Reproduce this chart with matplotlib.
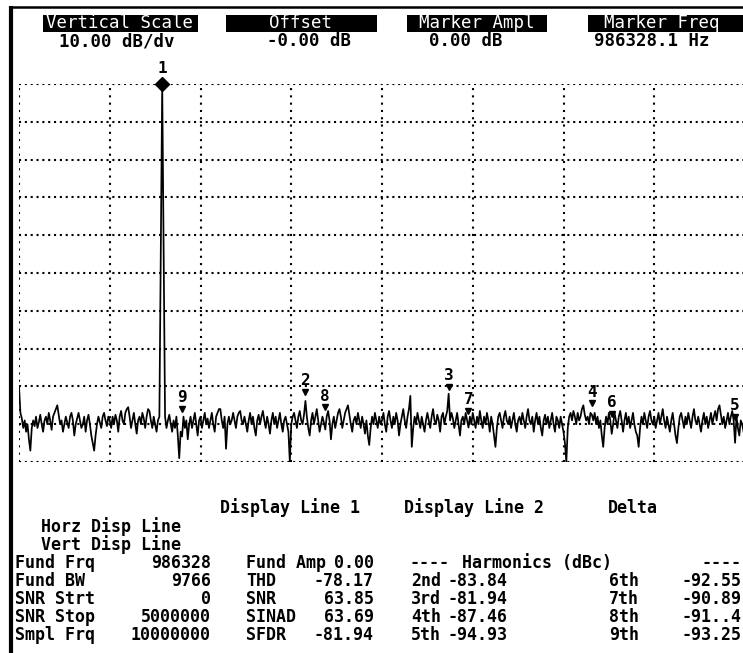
import numpy as np
import matplotlib
matplotlib.use("Agg")
import matplotlib.pyplot as plt
from matplotlib.patches import Rectangle
from matplotlib.lines import Line2D
import matplotlib.transforms as mtransforms

W, H = 743, 653

# ---------------- data ----------------
sample_rate = 10_000_000
fund_freq = 986328.1
fund_bw = 9766
fund_skirt_db = [-44.0, 0.0, -44.0]

harm_names = ["2", "3", "4", "5", "6", "7", "8", "9"]
harm_freq = [1972656, 2958984, 3945312, 4931640, 4082031, 3095703, 2109375, 1123047]
harm_db = [-83.84, -81.94, -87.46, -94.93, -92.55, -90.89, -91.4, -93.25]
marker_db = [-82.3, -81.0, -85.4, -88.9, -88.1, -87.3, -86.5, -86.8]

noise_step = 9765.625
noise_db = [
    -80, -87, -88.5, -91, -89, -92, -90, -94, -97, -91, -89, -90.5, -88, -91, -89.5, -87.5,
    -90, -92, -89, -88, -90, -87, -89, -91.5, -88, -87, -86, -85, -87.5, -90, -89, -92,
    -90, -88, -89.5, -91, -88, -87, -89, -93, -90, -88.5, -87, -89, -91, -90, -88, -92,
    -89, -87.5, -90, -93, -95, -97, -93, -90, -88, -89.5, -91, -88, -87, -89, -90.5, -88,
    -89, -91, -88, -90, -87.5, -89, -92, -88, -86.5, -89, -90, -87, -86, -85.5, -88, -91,
    -89, -87, -90, -92.5, -89, -88, -90, -87, -88.5, -91, -88, -86, -86.5, -89, -91, -88,
    -90, -92, -89, -88, -90, -89, -90, -88, -91, -89, -87.5, -90, -92, -89, -91, -88,
    -93, -99, -92, -89, -88, -91, -89, -94, -90, -88, -91, -89, -87, -90, -93, -89,
    -88, -91, -89, -87, -90, -88.5, -91, -89, -87, -90, -92, -88, -87, -86, -86, -89,
    -91, -88, -96.5, -90, -88, -90, -89, -87, -89, -91, -88, -87, -86.5, -89, -90, -88,
    -90, -92, -89, -87, -90, -88, -91, -93, -89, -87.5, -90, -88, -86.5, -89, -91, -88,
    -90, -92.5, -89, -87, -90, -88, -91, -89, -87, -90, -92, -89, -88, -90, -92, -100,
    -90, -88, -87, -89, -91, -88, -86.5, -89, -90, -87.5, -89, -88, -91, -93, -89, -87,
    -90, -88, -86, -89, -92, -90, -88, -89.5, -91, -88, -86.5, -89, -94, -90, -88, -91,
    -89, -87, -86, -88, -91, -89, -87, -86, -85, -87.5, -90, -92, -89, -88, -90, -87,
    -89, -91, -88, -90, -92.5, -89, -93, -95.5, -91, -88, -90, -87, -89, -91, -88, -90,
    -89, -87, -90, -92, -88, -86.5, -89, -91, -88, -90, -87, -89, -93, -90, -88, -86,
    -89, -91, -88, -86, -82.5, -96, -91, -88, -90, -87, -89, -91, -88, -90, -92, -89,
    -87, -89, -91, -88, -86, -89, -90, -87.5, -89, -92, -88, -87, -90, -88, -86.5, -90,
    -89, -87, -88.5, -91, -89, -87, -90, -93, -89, -88, -90, -87, -89, -91, -88, -90,
    -87, -89, -91, -88, -90, -86.5, -89, -91, -88, -90, -87, -89, -92, -88, -90, -93,
    -96, -91, -88, -87, -89, -91, -88, -86.5, -89, -90, -88, -91, -89, -87, -90, -92,
    -89, -88, -90, -87, -89, -91, -88, -86, -89, -90, -88, -92, -89, -87, -90, -88,
    -91, -93, -89, -87.5, -90, -88, -91, -89, -87, -90, -92, -88, -89, -91, -88, -90,
    -92, -95, -100, -91, -88, -87, -89, -86.5, -88, -90, -87, -89, -88, -86, -85, -87.5,
    -89, -88, -90, -87, -88, -89, -87, -90, -88, -91, -89, -93, -96, -91, -88, -90,
    -87, -89, -88, -90, -87, -89, -91, -88, -86.5, -89, -92, -89, -87, -90, -88, -91,
    -89, -87, -90, -92, -93, -96, -91, -88, -90, -87, -89, -91, -88, -86.5, -89, -90,
    -88, -91, -89, -87, -90, -88, -86, -89, -91, -88, -90, -92, -89, -87, -90, -93,
    -95, -91, -88, -87, -89, -91, -88, -90, -87, -89, -91, -88, -86, -89, -90, -88,
    -90, -92, -89, -87, -90, -88, -91, -89, -87, -90, -88, -86.5, -89, -86, -85, -87.5,
    -90, -88, -91, -89, -87, -90, -88, -86.5, -89, -90, -88, -91, -93, -89, -90, -92,
]

header_titles = ["Vertical Scale", "Offset", "Marker Ampl", "Marker Freq"]
header_values = ["10.00 dB/dv", "-0.00 dB", "0.00 dB", "986328.1 Hz"]

disp_cols = ["Display Line 1", "Display Line 2", "Delta"]
disp_rows = ["Horz Disp Line", "Vert Disp Line"]
colA_lab = ["Fund Frq", "Fund BW", "SNR Strt", "SNR Stop", "Smpl Frq"]
colA_val = ["986328", "9766", "0", "5000000", "10000000"]
colB_lab = ["Fund Amp", "THD", "SNR", "SINAD", "SFDR"]
colB_val = ["0.00", "-78.17", "63.85", "63.69", "-81.94"]
harm_title = ["----", "Harmonics (dBc)", "----"]
colC_lab = ["2nd", "3rd", "4th", "5th"]
colC_val = ["-83.84", "-81.94", "-87.46", "-94.93"]
colD_lab = ["6th", "7th", "8th", "9th"]
colD_val = ["-92.55", "-90.89", "-91..4", "-93.25"]

# ---------------- figure ----------------
fig = plt.figure(figsize=(W / 100, H / 100), dpi=100)
fig.patch.set_facecolor("white")

def fx(x):
    return x / W

def fy(y):
    return 1 - y / H

MONO = ["DejaVu Sans Mono"]
FS = 12.0
HFS = 12.5

# frame borders
fig.add_artist(Line2D([fx(10.5), fx(10.5)], [fy(6), fy(653)], color="black", lw=3.0,
                      transform=fig.transFigure, solid_capstyle="butt"))
fig.add_artist(Line2D([fx(9), fx(743)], [fy(7), fy(7)], color="black", lw=1.8,
                      transform=fig.transFigure, solid_capstyle="butt"))

# header boxes
box_x = [(43, 198), (226, 377), (407, 547), (588, 745)]
title_cx = [120, 301, 477, 662]
val_cx = [117, 309, 466, 652]
for (x0, x1), t, v, tc, vc in zip(box_x, header_titles, header_values, title_cx, val_cx):
    fig.add_artist(Rectangle((fx(x0), fy(32)), fx(x1) - fx(x0), fy(15) - fy(32),
                             transform=fig.transFigure, color="black", lw=0))
    fig.text(fx(tc), fy(23.5), t, color="white", ha="center", va="center",
             fontsize=HFS, family=MONO)
    fig.text(fx(vc), fy(41), v, color="black", ha="center", va="center",
             fontsize=HFS, family=MONO, fontweight="bold")

# ---------------- plot ----------------
ax = fig.add_axes([fx(19), fy(462), fx(745) - fx(19), fy(84) - fy(462)])
ax.set_xlim(0, sample_rate / 2)
ax.set_ylim(-100, 0)
ax.axis("off")

for yv in range(-100, 1, 10):
    ax.axhline(yv, color="black", lw=1.5, ls=(0, (1, 1.8)), zorder=1)
div = sample_rate / 2 / 8
for i in range(0, 9):
    ax.axvline(i * div, color="black", lw=1.5, ls=(0, (1, 2.5)), zorder=1)

nf = np.arange(len(noise_db)) * noise_step
nd = np.array(noise_db, dtype=float)
keep = np.abs(nf - fund_freq) > fund_bw
for hf in harm_freq:
    keep &= np.abs(nf - hf) > noise_step * 0.4
tf = list(nf[keep]) + [fund_freq - fund_bw, fund_freq, fund_freq + fund_bw] + list(harm_freq)
td = list(nd[keep]) + list(fund_skirt_db) + list(harm_db)
order = np.argsort(tf)
tf = np.array(tf)[order]
td = np.array(td)[order]
ax.plot(tf, td, color="black", lw=1.25, zorder=3, clip_on=True)

# fundamental marker
ax.plot([fund_freq], [0], marker="D", ms=7, color="black", clip_on=False, zorder=5)
ax.annotate("1", (fund_freq, 0), xytext=(0, 5.5), textcoords="offset points",
            ha="center", va="bottom", fontsize=11.5, fontweight="bold", family=MONO)

tri_tr = mtransforms.offset_copy(ax.transData, fig=fig, x=0, y=2.5, units="points")
for n, f, m in zip(harm_names, harm_freq, marker_db):
    ax.plot([f], [m], marker="v", ms=4.5, color="black", transform=tri_tr,
            clip_on=False, zorder=5)
    ax.annotate(n, (f, m), xytext=(0, 5), textcoords="offset points",
                ha="center", va="bottom", fontsize=11.5, fontweight="bold", family=MONO)

# ---------------- bottom table ----------------
def t(x, y, s, ha="left"):
    fig.text(fx(x), fy(y), s, ha=ha, va="center", fontsize=FS, family=MONO,
             fontweight="bold", color="black")

for x, s in zip([220, 404, 608], disp_cols):
    t(x, 508, s)
for y, s in zip([527, 545], disp_rows):
    t(41, y, s)

row_y = [563, 581, 599, 617, 635]
for i, y in enumerate(row_y):
    t(15, y, colA_lab[i])
    t(211, y, colA_val[i], ha="right")
    t(246, y, colB_lab[i])
    t(374, y, colB_val[i], ha="right")
t(410, row_y[0], harm_title[0])
t(462, row_y[0], harm_title[1])
t(741, row_y[0], harm_title[2], ha="right")
for i, y in enumerate(row_y[1:]):
    t(411, y, colC_lab[i])
    t(447, y, colC_val[i])
    t(609, y, colD_lab[i])
    t(741, y, colD_val[i], ha="right")

fig.savefig("out.png", dpi=100, facecolor="white")
